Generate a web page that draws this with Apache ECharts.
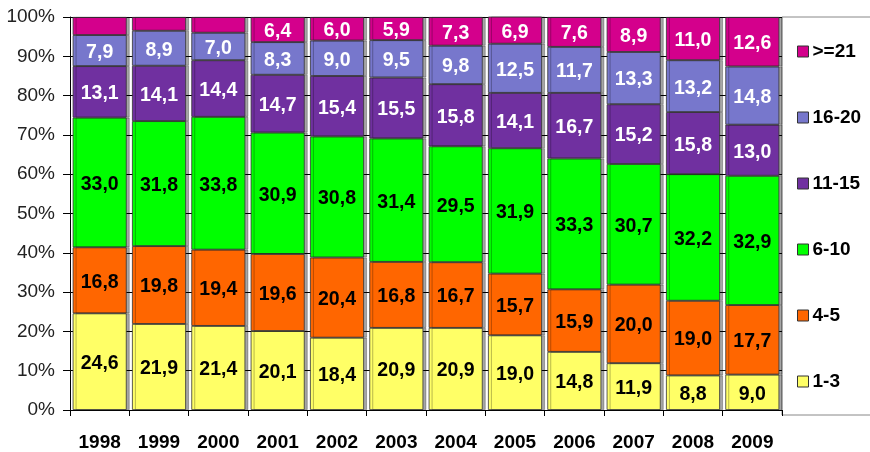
<!DOCTYPE html>
<html>
<head>
<meta charset="utf-8">
<script src="https://cdn.jsdelivr.net/npm/echarts@6/dist/echarts.min.js"></script>
<style>html,body{margin:0;padding:0;background:#fff;}#c{width:870px;height:452px;}</style>
</head>
<body>
<div id="c"></div>
<script>
var years = ['1998','1999','2000','2001','2002','2003','2004','2005','2006','2007','2008','2009'];
var seriesNames = ['1-3','4-5','6-10','11-15','16-20','>=21'];
var v1_3   = [24.6,21.9,21.4,20.1,18.4,20.9,20.9,19.0,14.8,11.9,8.8,9.0];
var v4_5   = [16.8,19.8,19.4,19.6,20.4,16.8,16.7,15.7,15.9,20.0,19.0,17.7];
var v6_10  = [33.0,31.8,33.8,30.9,30.8,31.4,29.5,31.9,33.3,30.7,32.2,32.9];
var v11_15 = [13.1,14.1,14.4,14.7,15.4,15.5,15.8,14.1,16.7,15.2,15.8,13.0];
var v16_20 = [7.9,8.9,7.0,8.3,9.0,9.5,9.8,12.5,11.7,13.3,13.2,14.8];
var v21    = [4.6,3.5,4.0,6.4,6.0,5.9,7.3,6.9,7.6,8.9,11.0,12.6];
var yTicks = [0,10,20,30,40,50,60,70,80,90,100];

var values = [v1_3, v4_5, v6_10, v11_15, v16_20, v21];
var colors = ['#FFFF66','#FF6600','#00FF00','#7030A0','#7777CC','#D4008C'];
var labelColors = ['#000','#000','#000','#fff','#fff','#fff'];
var font = '"Liberation Sans", Arial, sans-serif';

var series = seriesNames.map(function(name, i){
  return {
    name: name,
    type: 'bar',
    stack: 'total',
    barCategoryGap: '9%',
    data: values[i],
    itemStyle: {
      color: colors[i],
      borderColor: '#333',
      borderWidth: 0.8,
      shadowColor: 'rgba(0,0,0,0.35)',
      shadowOffsetX: 3,
      shadowOffsetY: 0,
      shadowBlur: 0
    },
    label: {
      show: true,
      position: 'inside',
      offset: [0, 2],
      color: labelColors[i],
      fontFamily: font,
      fontWeight: 'bold',
      fontSize: 19.5,
      formatter: function(p){
        return p.value >= 5 ? p.value.toFixed(1).replace('.', ',') : '';
      }
    }
  };
});

var chart = echarts.init(document.getElementById('c'), null, {renderer:'canvas'});
chart.setOption({
  animation: false,
  backgroundColor: '#fff',
  grid: {left: 70, right: 88, top: 17, bottom: 41, containLabel: false},
  legend: {
    orient: 'vertical',
    left: 797,
    top: 42,
    padding: 0,
    itemWidth: 11,
    itemHeight: 11,
    itemGap: 47,
    data: seriesNames.slice().reverse(),
    icon: 'rect',
    itemStyle: {borderColor: '#333', borderWidth: 1},
    textStyle: {fontFamily: font, fontWeight: 'bold', fontSize: 19, color: '#000', lineHeight: 19, padding: [0,0,0,-1]}
  },
  graphic: [{
    type: 'rect',
    z: -1,
    shape: {x: 782, y: 17, width: 100, height: 398},
    style: {fill: '#fff', stroke: '#888', lineWidth: 1}
  }],
  xAxis: {
    type: 'category',
    data: years,
    axisLine: {lineStyle: {color: '#000', width: 1}},
    axisTick: {show: true, length: 6, lineStyle: {color: '#000'}},
    axisLabel: {fontFamily: font, fontWeight: 'bold', fontSize: 19, color: '#000', margin: 23}
  },
  yAxis: {
    type: 'value',
    min: yTicks[0],
    max: yTicks[yTicks.length-1],
    interval: yTicks[1] - yTicks[0],
    axisLine: {show: true, lineStyle: {color: '#000', width: 1}},
    axisTick: {show: true, length: 7, lineStyle: {color: '#000'}},
    splitLine: {show: true, lineStyle: {color: '#000', width: 1}},
    axisLabel: {fontFamily: font, fontSize: 19, color: '#222', margin: 15, formatter: '{value}%'}
  },
  series: series
});
</script>
</body>
</html>
